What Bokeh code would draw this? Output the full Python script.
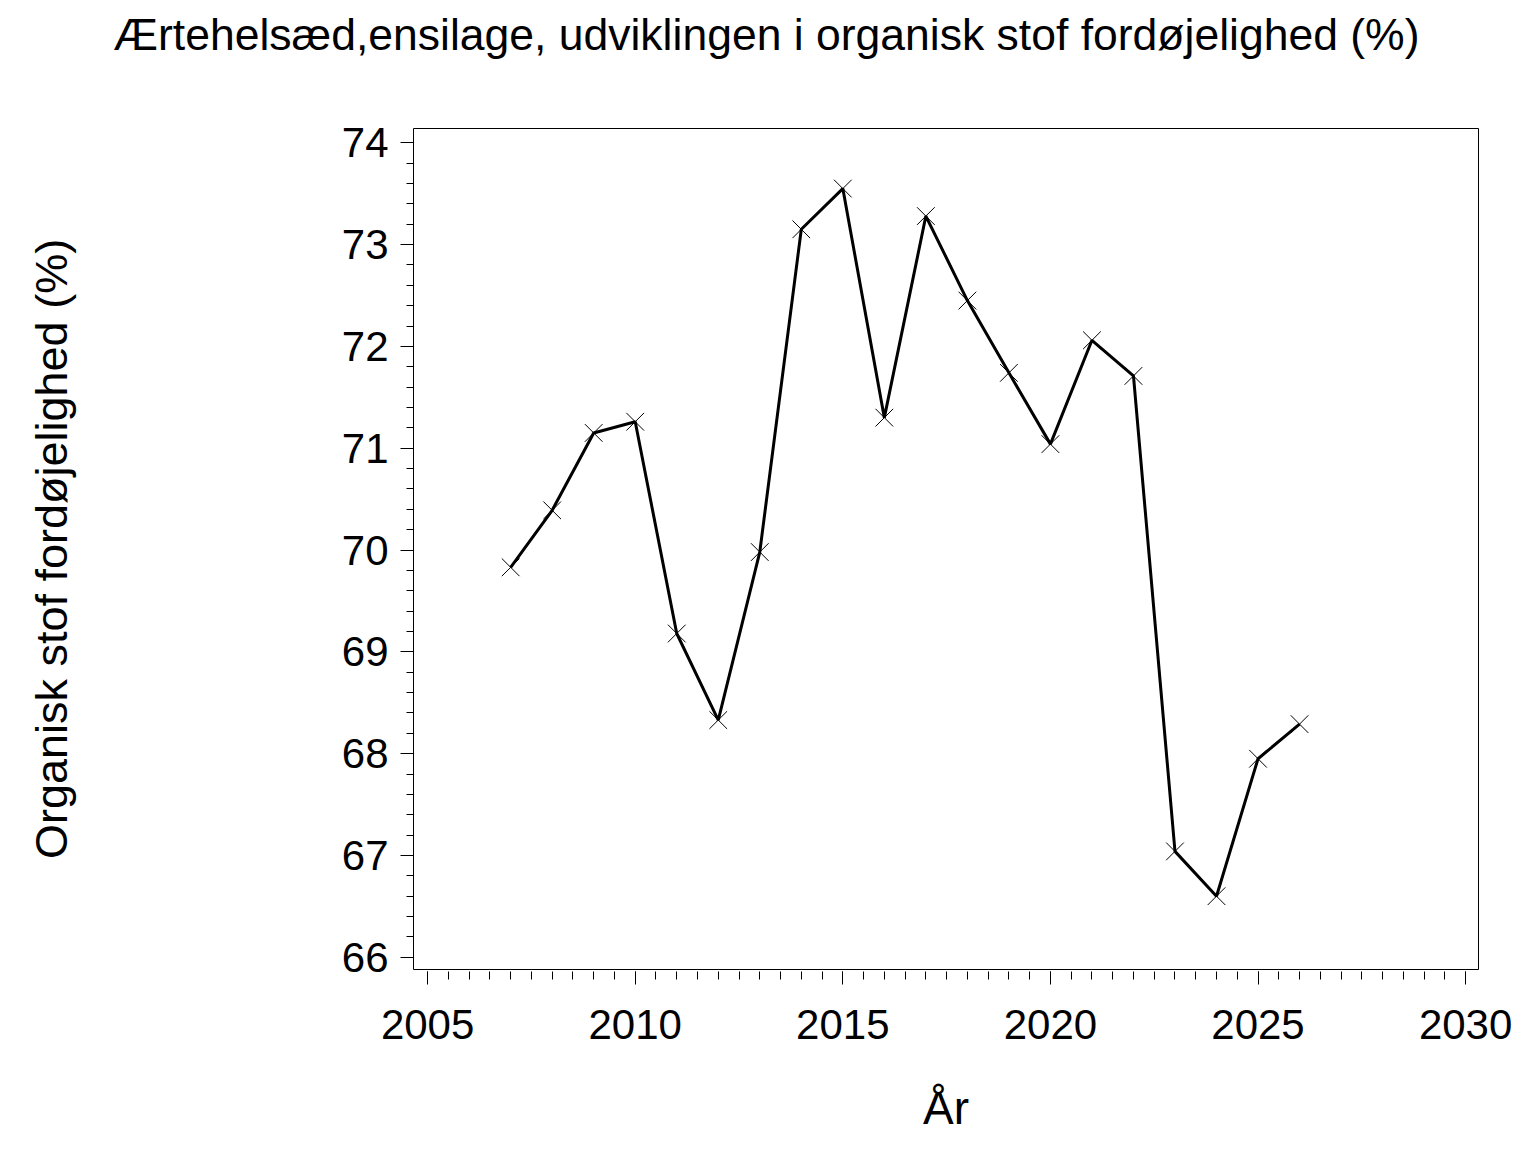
from bokeh.plotting import figure
from bokeh.models import Range1d, FixedTicker, LinearAxis, Title
from bokeh.embed import file_html
from bokeh.resources import INLINE

years = [2007, 2008, 2009, 2010, 2011, 2012, 2013, 2014, 2015, 2016,
         2017, 2018, 2019, 2020, 2021, 2022, 2023, 2024, 2025, 2026]
values = [69.83, 70.39, 71.15, 71.26, 69.18, 68.33, 69.98, 73.15, 73.55, 71.30,
          73.28, 72.45, 71.74, 71.04, 72.06, 71.71, 67.04, 66.60, 67.95, 68.29]
x_ticks = [2005, 2010, 2015, 2020, 2025, 2030]
y_ticks = [66, 67, 68, 69, 70, 71, 72, 73, 74]

title_text = "Ærtehelsæd,ensilage, udviklingen i organisk stof fordøjelighed (%)"
y_label = "Organisk stof fordøjelighed (%)"
x_label = "År"

REG = "Liberation Sans"

p = figure(width=1520, height=1136, output_backend="svg", toolbar_location=None,
           x_range=Range1d(2004.66, 2030.31), y_range=Range1d(65.88, 74.14),
           x_axis_type=None, y_axis_type=None, title=None,
           min_border_left=413, min_border_right=42, min_border_top=128, min_border_bottom=167)
p.grid.visible = False
p.outline_line_color = "black"
p.outline_line_width = 1
p.background_fill_color = "white"
p.border_fill_color = "white"

# spacer between frame and title (keeps the frame top fixed)
spacer = Title(text=" ", text_font_size="10px", standoff=57)
p.add_layout(spacer, "above")

main_title = Title(text=title_text, align="left", offset=-300, standoff=0,
                   vertical_align="bottom", text_font=REG, text_font_size="44.5px",
                   text_font_style="normal", text_color="black")
p.add_layout(main_title, "above")

xa = LinearAxis(ticker=FixedTicker(ticks=x_ticks, minor_ticks=[2005 + 0.5 * i for i in range(51)]))
xa.axis_line_color = None
xa.major_tick_in = -2
xa.major_tick_out = 15
xa.minor_tick_in = -2
xa.minor_tick_out = 10
xa.major_tick_line_color = "black"
xa.minor_tick_line_color = "black"
xa.major_label_text_font = REG
xa.major_label_text_font_size = "42px"
xa.major_label_text_color = "black"
xa.major_label_standoff = 25
xa.axis_label = x_label
xa.axis_label_text_font = REG
xa.axis_label_text_font_size = "46px"
xa.axis_label_text_font_style = "normal"
xa.axis_label_text_color = "black"
xa.axis_label_standoff = 40
p.add_layout(xa, "below")

ya = LinearAxis(ticker=FixedTicker(ticks=y_ticks, minor_ticks=[66 + 0.2 * i for i in range(41)]))
ya.axis_line_color = None
ya.major_tick_in = 0
ya.major_tick_out = 13
ya.minor_tick_in = 0
ya.minor_tick_out = 7
ya.major_tick_line_color = "black"
ya.minor_tick_line_color = "black"
ya.major_label_text_font = REG
ya.major_label_text_font_size = "42px"
ya.major_label_text_color = "black"
ya.major_label_standoff = 12
ya.axis_label = y_label
ya.axis_label_text_font = REG
ya.axis_label_text_font_size = "45px"
ya.axis_label_text_font_style = "normal"
ya.axis_label_text_color = "black"
ya.axis_label_standoff = 262
p.add_layout(ya, "left")

p.line(years, values, line_color="black", line_width=3)
p.scatter(years, values, marker="x", size=25, line_color="black", line_width=1)

open("out.html", "w").write(file_html(p, INLINE))
